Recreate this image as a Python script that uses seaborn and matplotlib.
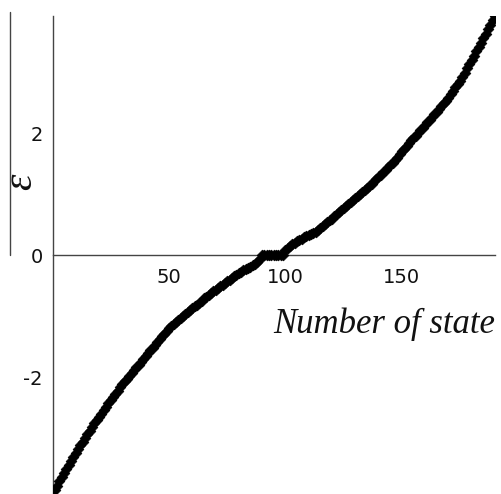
import numpy as np
import pandas as pd
import seaborn as sns
from matplotlib import pyplot as plt
from matplotlib.lines import Line2D

# energy levels, state number 1..190
energy = [
    -3.85, -3.78, -3.71, -3.64, -3.57, -3.50, -3.44, -3.37, -3.31, -3.25,
    -3.18, -3.12, -3.06, -3.00, -2.94, -2.88, -2.82, -2.76, -2.71, -2.65,
    -2.60, -2.54, -2.49, -2.43, -2.38, -2.33, -2.28, -2.22, -2.17, -2.12,
    -2.07, -2.03, -1.98, -1.94, -1.89, -1.84, -1.80, -1.75, -1.70, -1.66,
    -1.61, -1.56, -1.52, -1.47, -1.42, -1.38, -1.33, -1.29, -1.24, -1.19,
    -1.16, -1.13, -1.10, -1.06, -1.03, -1.00, -0.97, -0.93, -0.90, -0.87,
    -0.84, -0.81, -0.78, -0.75, -0.71, -0.68, -0.65, -0.62, -0.59, -0.57,
    -0.54, -0.51, -0.49, -0.46, -0.43, -0.41, -0.38, -0.35, -0.33, -0.30,
    -0.28, -0.25, -0.23, -0.21, -0.19, -0.16, -0.14, -0.12, -0.06, 0.00,
    0.00, 0.00, 0.00, 0.00, 0.00, 0.00, 0.00, 0.00, 0.00, 0.08,
    0.12, 0.15, 0.18, 0.20, 0.23, 0.25, 0.27, 0.29, 0.31, 0.33,
    0.35, 0.37, 0.38, 0.41, 0.44, 0.47, 0.51, 0.54, 0.57, 0.60,
    0.64, 0.67, 0.70, 0.74, 0.77, 0.80, 0.84, 0.87, 0.90, 0.93,
    0.97, 1.00, 1.03, 1.07, 1.10, 1.14, 1.17, 1.21, 1.25, 1.29,
    1.32, 1.36, 1.40, 1.44, 1.47, 1.51, 1.56, 1.60, 1.65, 1.70,
    1.74, 1.79, 1.83, 1.88, 1.92, 1.96, 2.01, 2.05, 2.09, 2.13,
    2.18, 2.22, 2.26, 2.31, 2.35, 2.40, 2.44, 2.49, 2.53, 2.58,
    2.64, 2.69, 2.75, 2.81, 2.86, 2.92, 2.99, 3.06, 3.13, 3.20,
    3.27, 3.34, 3.41, 3.48, 3.56, 3.63, 3.70, 3.77, 3.85, 3.92,
]
states = list(range(1, len(energy) + 1))
x_ticks = [50, 100, 150]
y_ticks = [-2, 0, 2]

df = pd.DataFrame({"state": states, "energy": energy})

sns.set_style("white")
plt.rcParams['font.family'] = ['DejaVu Sans']

fig = plt.figure(figsize=(5.01, 4.94), dpi=100)
ax = fig.add_axes([52.5 / 501, 1 / 494, (495 - 52.5) / 501, 477 / 494])

sns.scatterplot(data=df, x="state", y="energy", marker="D", s=30,
                color="black", edgecolor="black", linewidth=0.5,
                ax=ax, zorder=3, legend=False)

ax.set_xlim(0, 190)
ax.set_ylim(-3.9, 3.92)

for side in ["top", "right"]:
    ax.spines[side].set_visible(False)
ax.spines["bottom"].set_position(("data", 0))
for side in ["left", "bottom"]:
    ax.spines[side].set_color("#444444")
    ax.spines[side].set_linewidth(1.0)

ax.set_xticks(x_ticks)
ax.set_yticks(y_ticks)
ax.set_yticklabels([str(v) for v in y_ticks])
ax.tick_params(axis="both", direction="out", length=4, width=1,
               color="#444444", labelsize=14, labelcolor="#111111", pad=3)
ax.tick_params(axis="x", pad=5)
ax.set_xlabel("")
ax.set_ylabel("")

fig.text(495 / 501, 1 - 333 / 494, "Number of state", ha="right",
         va="baseline", fontsize=25, style="italic",
         family="Liberation Serif", color="#111111")
fig.text(21 / 501, 1 - 182 / 494, "\u03b5", ha="center", va="center",
         rotation=90, fontsize=30, style="italic",
         family="Liberation Serif", color="#111111")
fig.add_artist(Line2D([10 / 501, 10 / 501], [1 - 12 / 494, 1 - 255 / 494],
                      color="#444444", linewidth=1.0))

fig.savefig("out.png", dpi=100)
